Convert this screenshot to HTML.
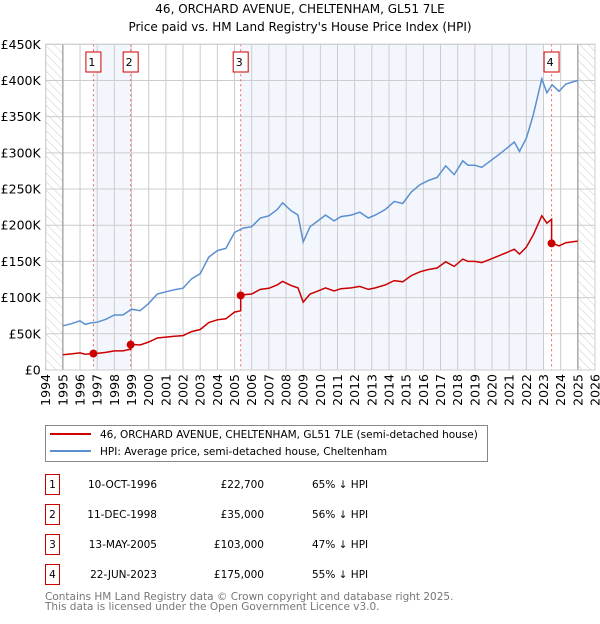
<!DOCTYPE html>
<html><head><meta charset="utf-8"><style>
body{margin:0;background:#fff;font-family:"DejaVu Sans","Liberation Sans",sans-serif;}
svg text{font-family:"DejaVu Sans","Liberation Sans",sans-serif;}
</style></head><body>
<svg id="c" width="600" height="620" xmlns="http://www.w3.org/2000/svg">
<defs><pattern id="hatch" width="6" height="6" patternUnits="userSpaceOnUse" patternTransform="rotate(-45)"><line x1="0" y1="0" x2="0" y2="6" stroke="#ccc" stroke-width="1"/></pattern></defs>
<text x="300" y="13" text-anchor="middle" font-size="12">46, ORCHARD AVENUE, CHELTENHAM, GL51 7LE</text>
<text x="300" y="31" text-anchor="middle" font-size="12">Price paid vs. HM Land Registry's House Price Index (HPI)</text>
<g id="plot"></g>
<g>
<rect x="45.5" y="425.5" width="442" height="36" fill="#fff" stroke="#888"/>
<line x1="50" y1="434" x2="91" y2="434" stroke="#cc0000" stroke-width="2"/>
<text x="100" y="438" font-size="10.5">46, ORCHARD AVENUE, CHELTENHAM, GL51 7LE (semi-detached house)</text>
<line x1="50" y1="451" x2="91" y2="451" stroke="#5b8fd0" stroke-width="2"/>
<text x="100" y="455" font-size="10.5">HPI: Average price, semi-detached house, Cheltenham</text>
</g>
<g id="table"></g>
<text x="45" y="600" font-size="10.5" fill="#777">Contains HM Land Registry data © Crown copyright and database right 2025.</text>
<text x="45" y="610" font-size="10.5" fill="#777">This data is licensed under the Open Government Licence v3.0.</text>
</svg>
<script>
const hpiYears=[1995,1995.5,1996,1996.3,1996.6,1997,1997.5,1998,1998.5,1999,1999.5,2000,2000.5,2001,2001.5,2002,2002.5,2003,2003.5,2004,2004.5,2005,2005.5,2006,2006.5,2007,2007.5,2007.8,2008.3,2008.7,2009,2009.4,2009.8,2010.3,2010.8,2011.2,2011.8,2012.3,2012.8,2013.2,2013.8,2014.3,2014.8,2015.3,2015.8,2016.3,2016.8,2017.3,2017.8,2018.3,2018.6,2019,2019.4,2019.8,2020.3,2020.8,2021.3,2021.6,2022,2022.4,2022.9,2023.2,2023.5,2023.9,2024.3,2024.7,2025];
const hpiValues=[61000,64000,68000,63000,65000,66000,70000,76000,76000,84000,82000,92000,105000,108000,111000,113000,126000,133000,156000,165000,168000,190000,196000,198000,210000,213000,222000,231000,220000,214000,177000,198000,205000,214000,206000,212000,214000,218000,210000,214000,222000,233000,230000,246000,256000,262000,266000,282000,270000,289000,283000,283000,280000,287000,296000,305000,315000,302000,320000,352000,402000,383000,394000,385000,395000,398000,400000];
const saleYears=[1996.78,1998.95,2005.36,2023.47];
const salePrices=[22700,35000,103000,175000];
const saleDates=["10-OCT-1996","11-DEC-1998","13-MAY-2005","22-JUN-2023"];
const saleLabels=["£22,700","£35,000","£103,000","£175,000"];
const saleDiffs=["65% ↓ HPI","56% ↓ HPI","47% ↓ HPI","55% ↓ HPI"];
const yTicks=[0,50000,100000,150000,200000,250000,300000,350000,400000,450000];
const yTickLabels=["£0","£50K","£100K","£150K","£200K","£250K","£300K","£350K","£400K","£450K"];
const xTicks=[1994,1995,1996,1997,1998,1999,2000,2001,2002,2003,2004,2005,2006,2007,2008,2009,2010,2011,2012,2013,2014,2015,2016,2017,2018,2019,2020,2021,2022,2023,2024,2025,2026];

const L=45.7,R=595,T=44.3,B=370;
const X=y=>L+(y-1994)/32*(R-L);
const Y=v=>B-v/450000*(B-T);
const NS="http://www.w3.org/2000/svg";
function mk(tag,attrs,parent){const e=document.createElementNS(NS,tag);for(const k in attrs)e.setAttribute(k,attrs[k]);parent.appendChild(e);return e;}
const g=document.getElementById('plot');
function hpiAt(t){for(let i=0;i<hpiYears.length-1;i++){if(t<=hpiYears[i+1]){const f=(t-hpiYears[i])/(hpiYears[i+1]-hpiYears[i]);return hpiValues[i]+f*(hpiValues[i+1]-hpiValues[i]);}}return hpiValues[hpiValues.length-1];}
let r=mk('rect',{x:X(saleYears[0]),y:T,width:X(saleYears[1])-X(saleYears[0]),height:B-T,fill:'#eef3fc',opacity:0.7},g);


r=mk('rect',{x:X(saleYears[2]),y:T,width:X(2023)-X(saleYears[2]),height:B-T,fill:'#eef3fc',opacity:0.7},g);


r=mk('rect',{x:L,y:T,width:X(1995)-L,height:B-T,fill:'url(#hatch)'},g);


r=mk('rect',{x:X(2025),y:T,width:R-X(2025),height:B-T,fill:'url(#hatch)'},g);


xTicks.forEach((t,i)=>{
 const l=mk('line',{x1:X(t),x2:X(t),y1:T,y2:B,stroke:'#ccc','stroke-width':1},g);
 
 
 const tx=mk('text',{x:0,y:0,'font-size':12.5,'text-anchor':'end',transform:`translate(${X(t)+4.5},${B+4}) rotate(-90)`},g);
 tx.textContent=t;
 
 
});
yTicks.forEach((v,i)=>{
 const l=mk('line',{x1:L,x2:R,y1:Y(v),y2:Y(v),stroke:'#ccc','stroke-width':1},g);
 
 
 const tx=mk('text',{x:L-5,y:Y(v)+4.5,'font-size':12.5,'text-anchor':'end'},g);
 tx.textContent=yTickLabels[i];
 
 
});
let ln=mk('line',{x1:X(1995),x2:X(1995),y1:T,y2:B,stroke:'#999','stroke-width':1.2},g);


ln=mk('line',{x1:X(2025),x2:X(2025),y1:T,y2:B,stroke:'#999','stroke-width':1.2},g);


saleYears.forEach((s,i)=>{
 const l=mk('line',{x1:X(s),x2:X(s),y1:T,y2:B,stroke:'#f06060','stroke-width':1,'stroke-dasharray':'2,3'},g);
 
 
 const bx=mk('rect',{x:X(s)-7.5,y:52,width:15,height:20,fill:'#fff',stroke:'#c00','stroke-width':1},g);
 
 
 const t=mk('text',{x:X(s)-1.5,y:66,'font-size':11,'text-anchor':'middle'},g);
 t.textContent=i+1;
 
 
});
let d='';hpiYears.forEach((y,i)=>{d+=(i?'L':'M')+X(y).toFixed(1)+','+Y(hpiValues[i]).toFixed(1);});
let p=mk('path',{d:d,fill:'none',stroke:'#5b8fd0','stroke-width':1.5},g);


function propAt(t){let k=0;for(let i=0;i<saleYears.length;i++)if(saleYears[i]<=t)k=i;return hpiAt(t)*salePrices[k]/hpiAt(saleYears[k]);}
let pts=hpiYears.concat(saleYears,saleYears.map(s=>s-0.001)).sort((a,b)=>a-b);
d='';pts.forEach((t,i)=>{d+=(i?'L':'M')+X(t).toFixed(1)+','+Y(propAt(t)).toFixed(1);});
p=mk('path',{d:d,fill:'none',stroke:'#cc0000','stroke-width':1.5},g);


saleYears.forEach((s,i)=>{
 const c=mk('circle',{cx:X(s),cy:Y(salePrices[i]),r:4,fill:'#cc0000'},g);
 
 
});
let fr=mk('rect',{x:L,y:T,width:R-L,height:B-T,fill:'none',stroke:'#ccc'},g);


const tb=document.getElementById('table');
saleYears.forEach((s,i)=>{
 const y0=475+i*30;
 const bx=mk('rect',{x:45.5,y:y0-0.5,width:14,height:20,fill:'#fff',stroke:'#c00'},tb);
 
 
 let t=mk('text',{x:52.5,y:y0+13,'font-size':10.5,'text-anchor':'middle'},tb);t.textContent=i+1;
 
 
 t=mk('text',{x:157,y:y0+13,'font-size':10.5,'text-anchor':'end'},tb);t.textContent=saleDates[i];
 
 
 t=mk('text',{x:264,y:y0+13,'font-size':10.5,'text-anchor':'end'},tb);t.textContent=saleLabels[i];
 
 
 t=mk('text',{x:312,y:y0+13,'font-size':10.5},tb);t.textContent=saleDiffs[i];
 
 
});
</script>
</body></html>
